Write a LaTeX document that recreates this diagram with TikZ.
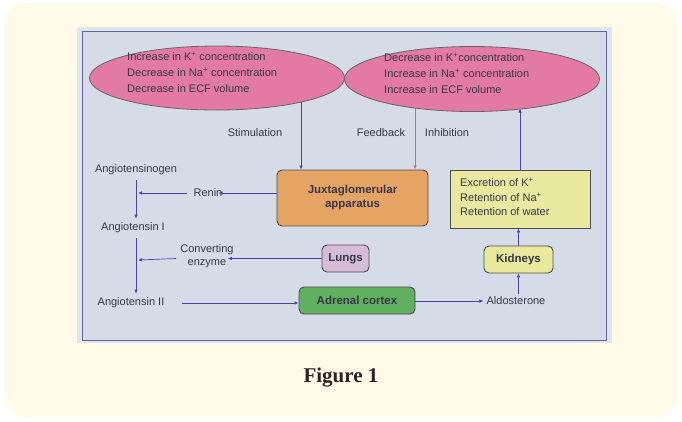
\documentclass[tikz,border=0pt]{standalone}
\usepackage{fontspec}
\setmainfont{Liberation Sans}
\newfontfamily\capfont{Liberation Serif}
\usetikzlibrary{shapes.geometric,arrows.meta,calc}
\definecolor{cream}{RGB}{255,251,232}
\definecolor{photo}{RGB}{214,219,232}
\definecolor{photoedge}{RGB}{226,229,238}
\definecolor{frameblue}{RGB}{90,100,160}
\definecolor{arrowblue}{RGB}{70,70,160}
\definecolor{pinkfill}{RGB}{226,122,164}
\definecolor{orangefill}{RGB}{230,164,100}
\definecolor{yellowfill}{RGB}{232,232,158}
\definecolor{lilac}{RGB}{214,188,214}
\definecolor{greenfill}{RGB}{96,176,96}
\definecolor{redline}{RGB}{228,100,100}
\definecolor{txt}{RGB}{55,55,70}
\tikzset{
  lbl/.style={font=\fontsize{11}{13}\selectfont, text=txt, inner sep=0pt},
  oval/.style={ellipse, draw=black!60, line width=0.8pt, fill=pinkfill},
  boxstyle/.style={draw=black!70, line width=0.9pt, rounded corners=5pt, font=\bfseries\fontsize{11.5}{14}\selectfont, text=txt, align=center},
  arr/.style={draw=arrowblue, line width=0.7pt, -{Latex[length=4pt,width=3.5pt]}}
}
\begin{document}
\begin{tikzpicture}[x=1pt,y=-1pt]
\useasboundingbox (0,0) rectangle (682,421);
\fill[white] (0,0) rectangle (682,421);
\fill[cream] (4,3) [rounded corners=22pt] rectangle (678,417);
% photo
\fill[photoedge] (77,27) rectangle (612,343);
\draw[frameblue, line width=1pt, fill=photo] (82,31) rectangle (606,340);
% ellipses
\node[oval, minimum width=255, minimum height=64] (e1) at (217,78) {};
\node[oval, minimum width=255, minimum height=65] (e2) at (472,79) {};
\node[lbl, anchor=north west, align=left] (t1) at (127,52) {Increase in K\textsuperscript{+} concentration\\[3pt]Decrease in Na\textsuperscript{+} concentration\\[3pt]Decrease in ECF volume};
\node[lbl, anchor=north west, align=left] (t2) at (384,53) {Decrease in K\textsuperscript{+}concentration\\[3pt]Increase in Na\textsuperscript{+} concentration\\[3pt]Increase in ECF volume};
% boxes
\node[boxstyle, fill=orangefill, minimum width=151, minimum height=56] (ja) at (352.5,198) {Juxtaglomerular\\apparatus};
\node[draw=black!70, line width=0.9pt, fill=yellowfill, minimum width=140, minimum height=58] (yb) at (520,199) {};
\node[lbl, anchor=north west, align=left] (yt) at (460,178) {Excretion of K\textsuperscript{+}\\[1.5pt]Retention of Na\textsuperscript{+}\\[1.5pt]Retention of water};
\node[boxstyle, fill=yellowfill, minimum width=69, minimum height=27] (kid) at (518.5,259.5) {Kidneys};
\node[boxstyle, fill=lilac, minimum width=47, minimum height=27] (lung) at (345.5,258.5) {Lungs};
\node[boxstyle, fill=greenfill, minimum width=116, minimum height=27] (adr) at (357,300.5) {Adrenal cortex};
% labels
\node[lbl] (stim) at (255,133) {Stimulation};
\node[lbl] (fb) at (381,133) {Feedback};
\node[lbl] (inh) at (447,133) {Inhibition};
\node[lbl] (agen) at (136,170) {Angiotensinogen};
\node[lbl] (ren) at (208,193) {Renin};
\node[lbl] (a1) at (133,228) {Angiotensin I};
\node[lbl, align=center] (conv) at (207,256) {Converting\\enzyme};
\node[lbl] (a2) at (131,303) {Angiotensin II};
\node[lbl] (ald) at (516,301) {Aldosterone};
% coordinates
\coordinate (s1) at (301,102);
\coordinate (f1) at (415,107.5);
\coordinate (k1) at (520,108.5);
\coordinate (v1) at (136,193);
\coordinate (v2) at (136,260);
% connectors
\draw[arr] (s1) -- (s1 |- ja.north);
\draw[draw=redline, line width=0.7pt, -{Latex[length=4pt,width=3.5pt]}] (f1) -- (f1 |- ja.north);
\draw[arr] (yb.north -| k1) -- (k1);
\draw[arr] (ja.west |- ren) -- ([xshift=-4pt]ren.east);
\draw[arr] ([xshift=-6pt]ren.west) -- ([xshift=2pt]v1);
\draw[arr] ([yshift=-5pt]agen.south -| v1) -- ([yshift=4pt]a1.north -| v1);
\draw[arr] ([yshift=-5pt]a1.south -| v2) -- ([yshift=4pt]a2.north -| v2);
\draw[arr] (lung.west) -- ([xshift=-6pt]conv.east |- lung.west);
\draw[arr] ([xshift=-4pt]conv.west |- lung.west) -- ([xshift=2pt]v2);
\draw[arr] ([xshift=17pt]a2.east) -- (adr.west |- a2);
\draw[arr] (adr.east |- ald) -- ([xshift=-3pt]ald.west);
\draw[arr] ([yshift=3pt]ald.north -| kid) -- (kid.south);
\draw[arr] (kid.north) -- (kid.north |- yb.south);
% caption
\node[font=\capfont\bfseries\fontsize{21}{25}\selectfont, text=black!85] (cap) at (341,378) {Figure 1};
\end{tikzpicture}
\end{document}
